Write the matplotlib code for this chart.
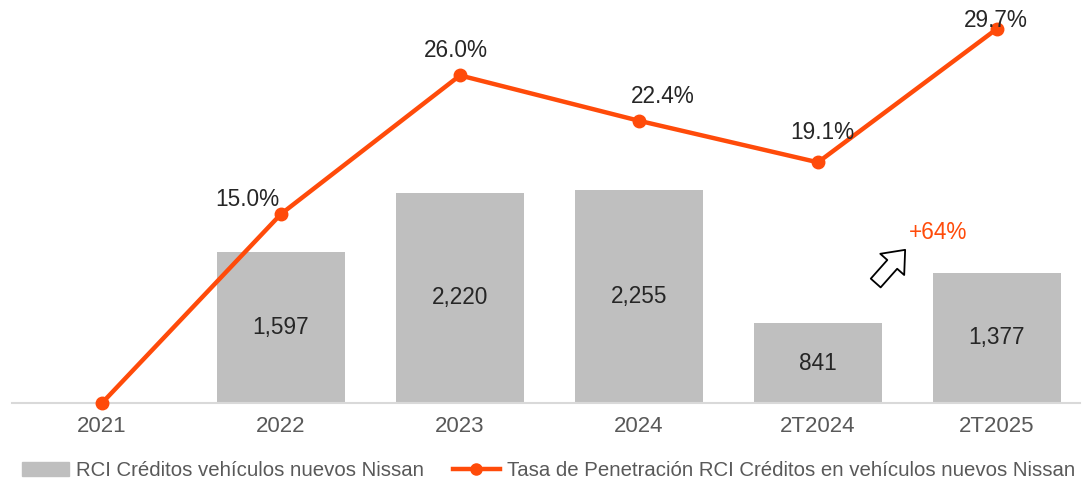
import matplotlib.pyplot as plt
from matplotlib.lines import Line2D
from matplotlib.patches import Patch

plt.rcParams["font.family"] = ["Liberation Sans", "DejaVu Sans"]

years = ["2021", "2022", "2023", "2024", "2T2024", "2T2025"]
credits = [0, 1597, 2220, 2255, 841, 1377]
penetration = [0.0, 15.0, 26.0, 22.4, 19.1, 29.7]
pct_offsets = [None, (-24, 2), (-3, 10), (17, 9), (3, 13), (-1, -2)]

bar_color = "#BFBFBF"
line_color = "#FF4B0A"
text_color = "#595959"

fig = plt.figure(figsize=(10.91, 4.83), dpi=100)
ax = fig.add_axes([12 / 1091, 80 / 483, 1068 / 1091, 393 / 483])
x = list(range(len(years)))

bars = ax.bar(x, credits, width=0.715, color=bar_color, zorder=1)
for xi, v in zip(x, credits):
    if v > 0:
        ax.text(xi, v / 2, f"{v:,}", ha="center", va="center",
                fontsize=16.3, color="#262626")

ax.set_xlim(-0.503, 5.464)
ax.set_ylim(0, 393 / 0.0946)
ax.set_xticks(x)
ax.set_xticklabels(years, fontsize=16, color=text_color)
ax.tick_params(axis="x", length=0, pad=9)
ax.set_yticks([])
for s in ["top", "right", "left"]:
    ax.spines[s].set_visible(False)
ax.spines["bottom"].set_color("#D9D9D9")
ax.spines["bottom"].set_linewidth(1.5)

ax2 = ax.twinx()
ax2.set_ylim(0, 393 / 12.6)
ax2.plot(x, penetration, color=line_color, lw=3.2, marker="o", ms=9,
         clip_on=False, zorder=3)
for xi, v, off in zip(x, penetration, pct_offsets):
    if off is None:
        continue
    ax2.annotate(f"{v:.1f}%", (xi, v), xytext=off, textcoords="offset points",
                 ha="center", va="bottom", fontsize=16.3, color="#262626")
ax2.set_yticks([])
for s in ax2.spines.values():
    s.set_visible(False)

# growth callout
ax.annotate("", xy=(0.838, 0.395), xytext=(0.807, 0.300),
            xycoords="axes fraction",
            arrowprops=dict(arrowstyle="simple,head_width=2.3,head_length=1.4,tail_width=0.95",
                            mutation_scale=10, fc="white", ec="black", lw=1.3))
ax.text(0.867, 0.435, "+64%", transform=ax.transAxes, ha="center", va="center",
        fontsize=16.3, color=line_color)

handles = [
    Patch(color=bar_color),
    Line2D([0], [0], color=line_color, lw=3.2, marker="o", ms=8),
]
labels = ["RCI Créditos vehículos nuevos Nissan",
          "Tasa de Penetración RCI Créditos en vehículos nuevos Nissan"]
fig.legend(handles, labels, loc="center", bbox_to_anchor=(0.503, 0.026), ncol=2,
           frameon=False, fontsize=14.7, labelcolor=text_color,
           handlelength=2.3, handletextpad=0.35, columnspacing=1.4)

plt.savefig("out.png", dpi=100)
